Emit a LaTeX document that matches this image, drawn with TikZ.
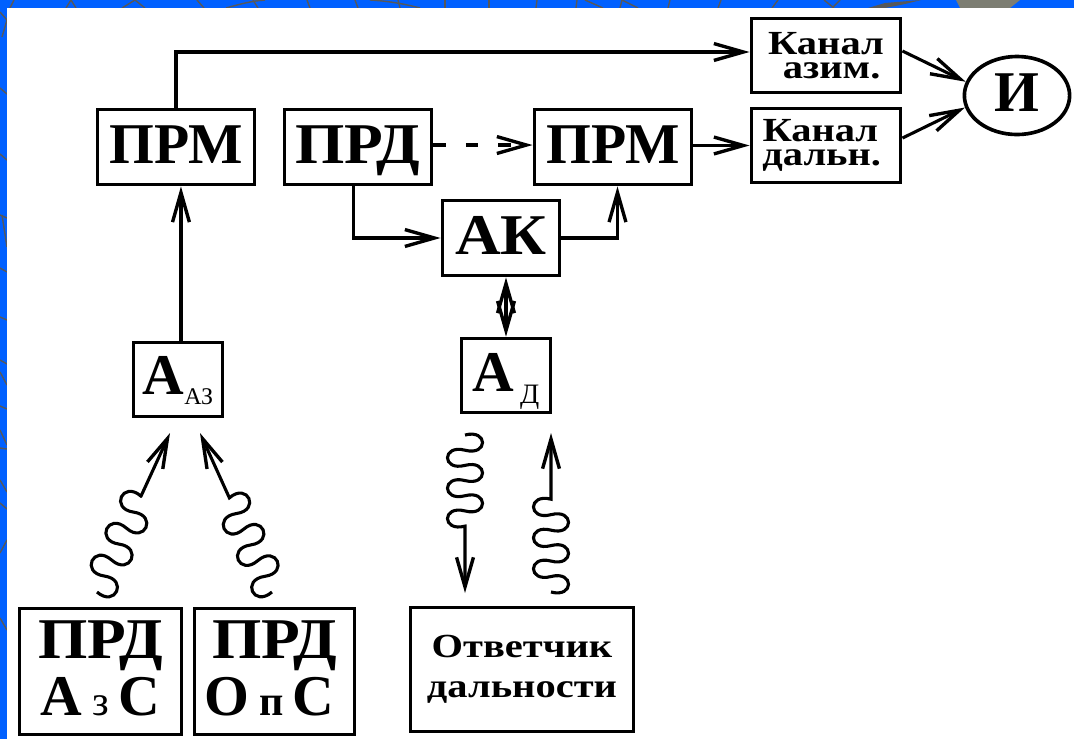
\documentclass[tikz,border=0pt]{standalone}
\usepackage{fontspec}
\setmainfont{Liberation Serif}
\newfontfamily\widefont{Liberation Serif Bold}[FakeStretch=1.2]
\newfontfamily\prdfont{Liberation Serif Bold}[FakeStretch=1.1]
\usepackage{xcolor}
\usetikzlibrary{arrows.meta,shapes.geometric,decorations}
\definecolor{framebg}{HTML}{0060FF}
\definecolor{webgray}{HTML}{56585A}
\definecolor{blobgray}{HTML}{7C7D72}
\pgfdeclaredecoration{lobes}{up}{
  \state{up}[width=+.5\pgfdecorationsegmentlength,next state=down]{
    \pgfpathcurveto{\pgfpoint{-.2\pgfdecorationsegmentlength}{1.33\pgfdecorationsegmentamplitude}}
      {\pgfpoint{.7\pgfdecorationsegmentlength}{1.33\pgfdecorationsegmentamplitude}}
      {\pgfpoint{.5\pgfdecorationsegmentlength}{0pt}}
  }
  \state{down}[width=+.5\pgfdecorationsegmentlength,next state=up]{
    \pgfpathcurveto{\pgfpoint{-.2\pgfdecorationsegmentlength}{-1.33\pgfdecorationsegmentamplitude}}
      {\pgfpoint{.7\pgfdecorationsegmentlength}{-1.33\pgfdecorationsegmentamplitude}}
      {\pgfpoint{.5\pgfdecorationsegmentlength}{0pt}}
  }
  \state{final}{\pgfpathlineto{\pgfpointdecoratedpathlast}}
}
\tikzset{
  barb/.tip={Straight Barb[length=21pt,width=12pt,line width=2.4pt]},
  block/.style={draw,line width=2.6pt,inner sep=0pt,align=center,font=\bfseries},
  bigtext/.style={font=\fontsize{41}{41}\selectfont\bfseries,text height=30pt,text depth=7.2pt},
  twotext/.style={font=\fontsize{41}{41}\selectfont\bfseries,text depth=5pt},
  midtext/.style={font=\fontsize{24}{17}\widefont},
  link/.style={line width=2.2pt},
  wave/.style 2 args={link,decorate,decoration={lobes,amplitude=12.5pt,segment length=#2,post length=#1}},
  webline/.style={webgray,line width=1pt}
}
\begin{document}
\begin{tikzpicture}[x=0.025cm,y=-0.025cm]
  \useasboundingbox (0,0) rectangle (1074,739);
  % Frame with web pattern
  \fill[framebg] (0,0) rectangle (1074,739);
  \foreach \xa/\ya/\xb/\yb in {0/12/7/20,7/20/2/37,0/88/7/94,0/154/7/160,0/215/7/218,2/215/7/247,
    0/268/7/272,0/317/7/320,0/360/7/364,0/372/7/385,0/406/7/409,0/430/7/445,0/448/7/449,
    0/480/7/492,0/503/7/509,0/553/7/540,0/618/7/630,
    14/0/10/8,71/0/66/8,71/0/76/8,135/0/122/8,135/0/145/8,197/0/204/8,253/0/258/8,307/0/310/8,
    355/0/358/8,398/0/400/8,445/0/445/8,489/0/489/8,537/0/536/8,577/0/576/8,585/0/603/8,
    622/0/620/8,622/0/638/8,670/0/668/8,721/0/718/8,778/0/772/8,824/0/834/8,840/0/832/8}
    \draw[webline] (\xa,\ya) -- (\xb,\yb);
  \draw[webline] (226,8) .. controls (240,4) and (252,1) .. (265,0);
  \draw[webline] (370,0) .. controls (388,1) and (405,4) .. (420,8);
  \fill[webgray] (868,8) -- (885,3) -- (921,0) -- (905,4) -- (885,8) -- cycle;
  \fill[blobgray] (956,0) -- (1020,0) -- (1010,8) -- (960,8) -- cycle;
  \fill[white] (7,8) rectangle (1074,739);
  % Upper row
  \node[block,bigtext,minimum width=3.93cm,minimum height=1.88cm] (prmA) at (176,147) {ПРМ};
  \node[block,bigtext,minimum width=3.68cm,minimum height=1.88cm] (prdC) at (358,147) {\prdfont ПРД};
  \node[block,bigtext,minimum width=3.93cm,minimum height=1.88cm] (prmB) at (613,147) {ПРМ};
  \node[block,bigtext,minimum width=2.93cm,minimum height=1.88cm] (ak) at (501,238) {\prdfont АК};
  \node[block,midtext,minimum width=3.73cm,minimum height=1.85cm] (kanAz) at (826,55.5) {Канал\\\hspace*{8pt}азим.};
  \node[block,midtext,minimum width=3.73cm,minimum height=1.85cm] (kanD) at (826,145.5) {Канал\hspace*{8pt}\\дальн.\hspace*{6pt}};
  \node[block,ellipse,bigtext,minimum width=2.63cm,minimum height=1.95cm] (ind) at (1017,95.5) {И};
  % Antennas
  \node[block,bigtext,text depth=9pt,minimum width=2.23cm,minimum height=1.85cm] (antAz) at (178,379.5)
    {А\raisebox{-7pt}{\fontsize{17}{17}\selectfont\mdseries АЗ}};
  \node[block,bigtext,minimum width=2.23cm,minimum height=1.85cm] (antD) at (506,375.5)
    {А\hspace{4pt}\raisebox{-8.5pt}{\fontsize{20}{20}\selectfont\mdseries Д}};
  % Lower row
  \node[block,twotext,minimum width=4.05cm,minimum height=3.15cm] (prdAz) at (100.5,671.5)
    {{\prdfont ПРД}\\А\,{\fontsize{30}{30}\selectfont\mdseries з}\,С};
  \node[block,twotext,minimum width=4cm,minimum height=3.15cm] (prdOp) at (274.5,671.5)
    {{\prdfont ПРД}\\О\,{\fontsize{30}{30}\selectfont п}\,С\hspace*{7pt}};
  \node[block,font=\fontsize{24}{28.4}\widefont,minimum width=5.58cm,minimum height=3.1cm] (otv) at (522,669.5)
    {Ответчик\\дальности};
  % Free ends of the waves
  \coordinate (waveAa) at (97,592);
  \coordinate (waveAb) at (170,433);
  \coordinate (waveBa) at (272,592);
  \coordinate (waveBb) at (200,433);
  \coordinate (waveCa) at (465,435);
  \coordinate (waveCb) at (465,593);
  \coordinate (waveDa) at (551,592);
  \coordinate (waveDb) at (551,433);
  % Connectors
  \draw[link,-barb] (prmA.north) |- ([yshift=2.5pt]kanAz.west);
  \draw[link,-barb] ([xshift=2.1pt]antAz.north) -- ([xshift=2.1pt]antAz.north |- prmA.south);
  \draw[link,-barb,dash pattern=on 9pt off 14pt] ([yshift=1.4pt]prdC.east) -- ([yshift=1.4pt]prmB.west);
  \draw[link,-barb] ([xshift=-3pt]prdC.south) |- (ak.west);
  \draw[link,-barb] (ak.east) -| ([xshift=3.2pt]prmB.south);
  \draw[link,-barb] (kanD.west -| prmB.east) -- (kanD.west);
  \draw[link,barb-barb] (ak.south -| antD.north) -- (antD.north);
  \draw[link,-barb] ([yshift=3.2pt]kanAz.east) -- (ind.165);
  \draw[link,-barb] ([yshift=5.3pt]kanD.east) -- (ind.193);
  % Waves
  \draw[wave={48pt}{25pt},decoration={mirror},-barb] (waveAa) -- (waveAb);
  \draw[wave={49.6pt}{24.5pt},-barb] (waveBa) -- (waveBb);
  \draw[wave={46.5pt}{21.6pt},-barb] (waveCa) -- (waveCb);
  \draw[wave={45.5pt}{22pt},decoration={mirror},-barb] (waveDa) -- (waveDb);
\end{tikzpicture}
\end{document}
